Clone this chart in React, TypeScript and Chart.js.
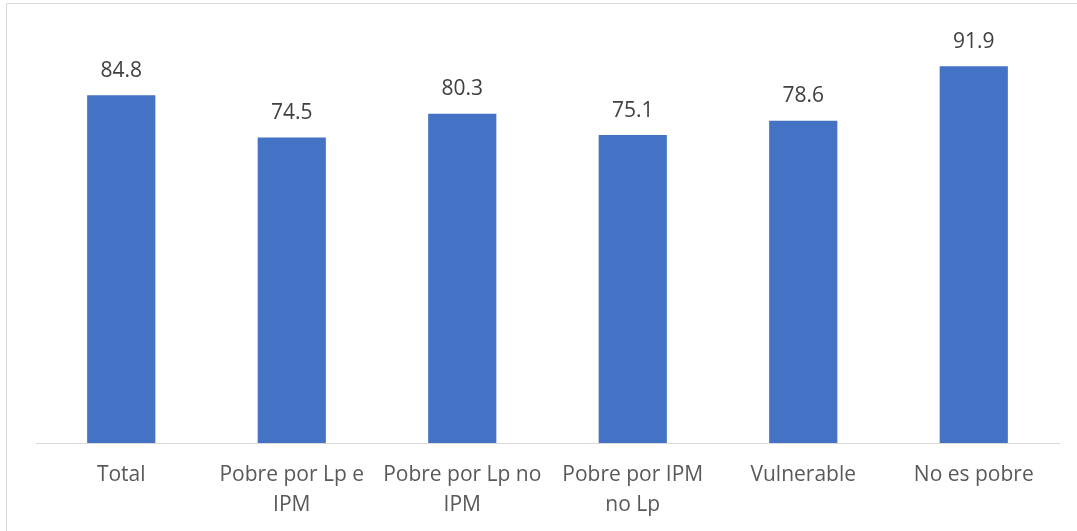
import React, { useEffect, useRef } from "react";
import { Chart, registerables } from "chart.js";

Chart.register(...registerables);

const categories: (string | string[])[] = [
  "Total",
  ["Pobre por Lp e", "IPM"],
  ["Pobre por Lp no", "IPM"],
  ["Pobre por IPM", "no Lp"],
  "Vulnerable",
  "No es pobre",
];
const values: number[] = [84.8, 74.5, 80.3, 75.1, 78.6, 91.9];

const FONT = "'Open Sans', 'Noto Sans', sans-serif";

const decorPlugin = {
  id: "decor",
  beforeDraw(chart: any) {
    const ctx = chart.ctx;
    ctx.save();
    ctx.fillStyle = "#ffffff";
    ctx.fillRect(0, 0, chart.width, chart.height);
    ctx.strokeStyle = "#d9d9d9";
    ctx.lineWidth = 1;
    ctx.strokeRect(6.5, 3.5, chart.width + 20, chart.height + 20);
    ctx.restore();
  },
  afterDatasetsDraw(chart: any) {
    const ctx = chart.ctx;
    const meta = chart.getDatasetMeta(0);
    ctx.save();
    ctx.fillStyle = "#404040";
    ctx.font = `21px ${FONT}`;
    ctx.textAlign = "center";
    ctx.textBaseline = "alphabetic";
    meta.data.forEach((bar: any, i: number) => {
      ctx.fillText(values[i].toFixed(1), bar.x, bar.y - 18.5);
    });
    ctx.restore();
  },
};

export default function App() {
  const ref = useRef<HTMLCanvasElement>(null);
  useEffect(() => {
    if (!ref.current) return;
    const chart = new Chart(ref.current, {
      type: "bar",
      data: {
        labels: categories,
        datasets: [
          {
            data: values,
            backgroundColor: "#4472C4",
            barPercentage: 0.4,
            categoryPercentage: 1,
          },
        ],
      },
      options: {
        animation: false,
        responsive: false,
        maintainAspectRatio: false,
        layout: { padding: { left: 36, right: 18, top: 33, bottom: 0 } },
        plugins: {
          legend: { display: false },
          tooltip: { enabled: false },
        },
        scales: {
          x: {
            grid: { display: false, drawTicks: false },
            border: { display: true, color: "#d9d9d9", width: 1 },
            ticks: {
              color: "#595959",
              font: { family: FONT, size: 21, lineHeight: 1.42 },
              padding: 17,
              maxRotation: 0,
              autoSkip: false,
            },
            afterFit: (scale: any) => {
              scale.height = 88;
            },
          },
          y: {
            display: false,
            min: 0,
            max: 100,
          },
        },
      },
      plugins: [decorPlugin],
    });
    return () => chart.destroy();
  }, []);
  return (
    <div style={{ position: "fixed", left: 0, top: 0, width: 1077, height: 531 }}>
      <canvas ref={ref} width={1077} height={531} style={{ display: "block" }} />
    </div>
  );
}
